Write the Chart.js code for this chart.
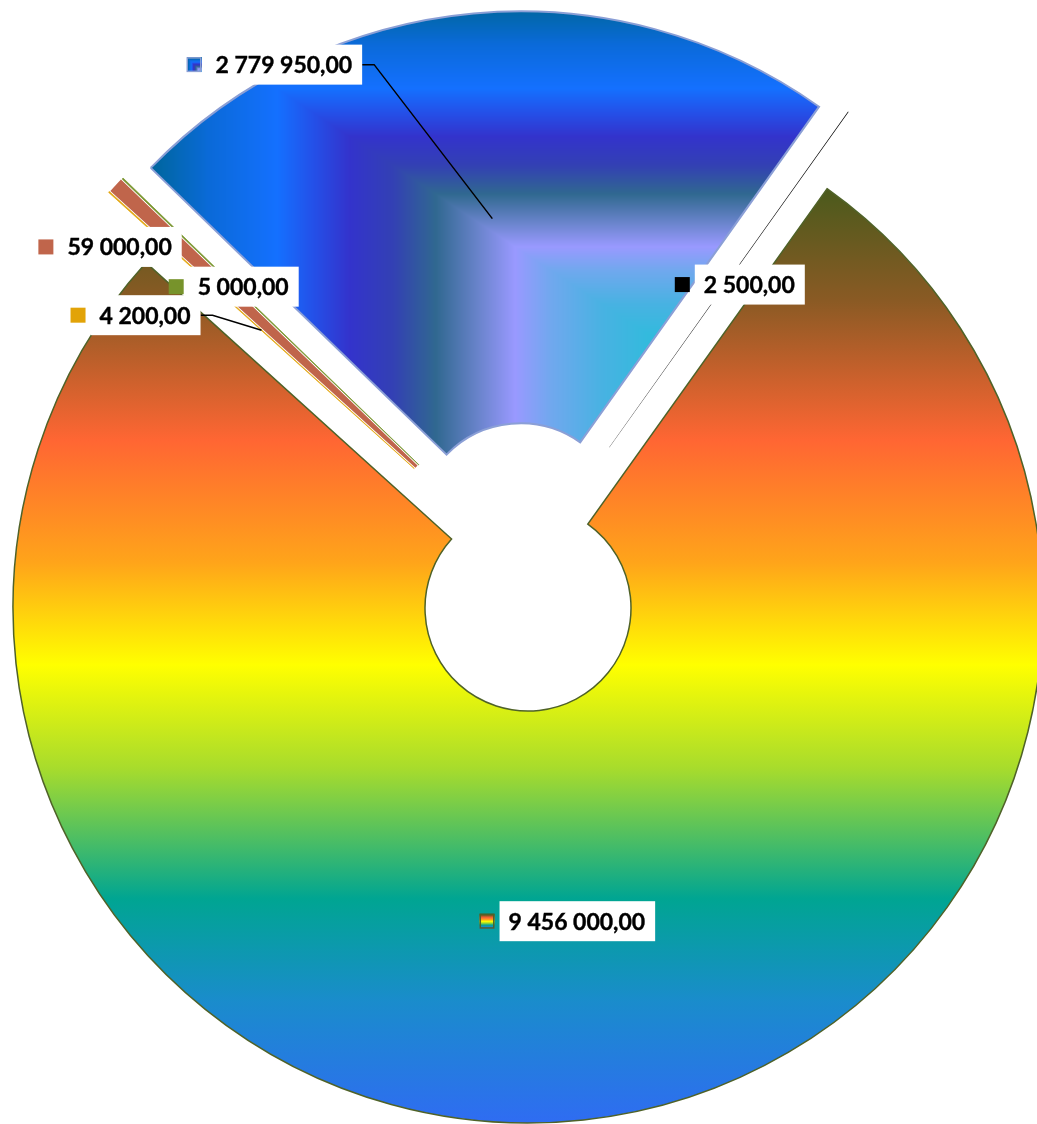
<!DOCTYPE html>
<html>
<head>
<meta charset="utf-8">
<script src="https://cdn.jsdelivr.net/npm/chart.js@4.4.1/dist/chart.umd.min.js"></script>
<style>
  html, body { margin: 0; padding: 0; background: #fff; }
  #wrap { width: 1037px; height: 1124px; }
</style>
</head>
<body>
<div id="wrap"><canvas id="chart" width="1037" height="1124"></canvas></div>
<script>
// slices in clockwise order, starting at the right edge of the big one
const sliceNames = ['Slice 1', 'Slice 2', 'Slice 3', 'Slice 4', 'Slice 5', 'Slice 6'];
const sliceValues = [9456000, 4200, 59000, 5000, 2779950, 2500];
const sliceColors = ['rainbow', '#e2a308', '#c0654b', '#77932b', 'blue', '#000000'];

// how far each slice is pulled out (radial, sideways clockwise), px
const explodeR = [0, 75, 75, 75, 82, 75];
const explodeT = [0, 27, 27, 27, 0, -27];

// label placement relative to each slice centroid (px) and leader flag
const labelShift = [[6, 6], [-126, -15], [-156, -79], [-37, -35], [-218, -154], [11, 5]];
const labelLeader = [false, true, false, false, true, false];

const outerR = 515;

function fmt(v) {
    const parts = v.toFixed(2).split('.');
    return parts[0].replace(/\B(?=(\d{3})+(?!\d))/g, ' ') + ',' + parts[1];
}

// stops of the excel style gradients
const rainbowStops = [
    [0.00, '#4a5a1c'], [0.12, '#8a5a24'], [0.27, '#ff6633'], [0.40, '#ffa41a'],
    [0.51, '#ffff00'], [0.62, '#a8dc2c'], [0.76, '#00a592'], [0.87, '#1a8ccc'], [1.00, '#2f6cf2']
];
const blueStops = [
    [-0.40, '#2ebcdc'], [-0.24, '#48b2e2'], [-0.10, '#70a8ee'], [0.00, '#9999ff'],
    [0.10, '#6a84cc'], [0.22, '#306890'], [0.34, '#3340b4'], [0.46, '#3333cc'],
    [0.56, '#2450e8'], [0.66, '#1470ff'], [0.85, '#0a6ad8'], [1.00, '#0066a0']
];

function hex(c) {
    return [parseInt(c.slice(1, 3), 16), parseInt(c.slice(3, 5), 16), parseInt(c.slice(5, 7), 16)];
}
const blueRgb = blueStops.map(s => [s[0], hex(s[1])]);
function blueAt(t) {
    if (t <= blueRgb[0][0]) return blueRgb[0][1];
    for (let i = 1; i < blueRgb.length; i++) {
        if (t <= blueRgb[i][0]) {
            const a = blueRgb[i - 1], b = blueRgb[i];
            const f = (t - a[0]) / (b[0] - a[0]);
            return [0, 1, 2].map(k => a[1][k] + (b[1][k] - a[1][k]) * f);
        }
    }
    return blueRgb[blueRgb.length - 1][1];
}

// rectangular "from corner" fill, drawn pixel by pixel
function blueCanvas(w, h, cx, cy, sx, sy, x0, y0, x1, y1) {
    const c = document.createElement('canvas');
    c.width = w; c.height = h;
    const g = c.getContext('2d');
    const img = g.createImageData(w, h);
    for (let y = Math.max(0, y0); y < Math.min(h, y1); y++) {
        for (let x = Math.max(0, x0); x < Math.min(w, x1); x++) {
            const t = Math.max((cx - x) / sx, (cy - y) / sy);
            const col = blueAt(t);
            const p = (y * w + x) * 4;
            img.data[p] = col[0]; img.data[p + 1] = col[1]; img.data[p + 2] = col[2]; img.data[p + 3] = 255;
        }
    }
    g.putImageData(img, 0, 0);
    return c;
}

let fills = null;
function makeFills(chart) {
    const area = chart.chartArea;
    const ctx = chart.ctx;
    const cx = (area.left + area.right) / 2;
    const cy = (area.top + area.bottom) / 2;
    const R = outerR;
    const rb = ctx.createLinearGradient(0, cy - 0.815 * R, 0, cy + R);
    rainbowStops.forEach(s => rb.addColorStop(s[0], s[1]));
    const bc = blueCanvas(chart.width, chart.height, cx - 0.012 * R, cy - 0.544 * R, 0.70 * R, 0.464 * R,
        Math.floor(cx - R - 4), Math.floor(cy - R - 4), Math.ceil(cx + R + 4), Math.ceil(cy + 10));
    const bp = ctx.createPattern(bc, 'no-repeat');
    const kb = blueCanvas(16, 16, 12, 12, 11, 11, 0, 0, 16, 16);
    fills = { rainbow: rb, blue: bp, blueKey: kb };
}

function sliceFill(context) {
    const chart = context.chart;
    const c = sliceColors[context.dataIndex];
    if (c !== 'rainbow' && c !== 'blue') return c;
    if (!chart.chartArea) return c === 'blue' ? '#1470ff' : '#ffa41a';
    if (!fills) makeFills(chart);
    return fills[c];
}

function explodeVec(arc, i) {
    const half = (arc.startAngle + arc.endAngle) / 2;
    const r = explodeR[i], t = explodeT[i];
    return {
        x: Math.cos(half) * r - Math.sin(half) * t,
        y: Math.sin(half) * r + Math.cos(half) * t
    };
}

// pulls the slices out without shrinking their angles
const explodePlugin = {
    id: 'explode',
    beforeDatasetDraw(chart, args) {
        const ctx = chart.ctx;
        args.meta.data.forEach((arc, i) => {
            const v = explodeVec(arc, i);
            ctx.save();
            ctx.translate(v.x, v.y);
            arc.draw(ctx, chart.chartArea);
            ctx.restore();
        });
        return false;
    }
};

const labelPlugin = {
    id: 'valueLabels',
    afterDatasetsDraw(chart) {
        const ctx = chart.ctx;
        const meta = chart.getDatasetMeta(0);
        ctx.save();
        ctx.font = 'bold 23px Lato';
        ctx.textBaseline = 'middle';
        meta.data.forEach((arc, i) => {
            const c0 = arc.tooltipPosition();
            const v = explodeVec(arc, i);
            const p = { x: c0.x + v.x, y: c0.y + v.y };
            const text = fmt(sliceValues[i]);
            const tw = ctx.measureText(text).width;
            const key = 15, gap = 5, boxW = tw + 19, boxH = 40;
            const groupW = key + gap + boxW;
            const mx = p.x + labelShift[i][0], my = p.y + labelShift[i][1];
            const left = mx - groupW / 2;
            if (labelLeader[i]) {
                ctx.strokeStyle = '#000';
                ctx.lineWidth = 1.5;
                ctx.beginPath();
                ctx.moveTo(left + groupW, my);
                ctx.lineTo(left + groupW + 12, my);
                ctx.lineTo(p.x, p.y);
                ctx.stroke();
            }
            ctx.fillStyle = '#fff';
            ctx.fillRect(left + key + gap, my - boxH / 2, boxW, boxH);
            const ky = my - key / 2;
            const c = sliceColors[i];
            if (c === 'rainbow') {
                const g = ctx.createLinearGradient(0, ky, 0, ky + key);
                rainbowStops.forEach(s => g.addColorStop(s[0], s[1]));
                ctx.fillStyle = g;
                ctx.fillRect(left, ky, key, key);
                ctx.strokeStyle = '#4f6228';
                ctx.lineWidth = 1.5;
                ctx.strokeRect(left + 0.75, ky + 0.75, key - 1.5, key - 1.5);
            } else if (c === 'blue') {
                ctx.drawImage(fills.blueKey, left, ky, key, key);
                ctx.strokeStyle = '#8b9fd6';
                ctx.lineWidth = 1.5;
                ctx.strokeRect(left + 0.75, ky + 0.75, key - 1.5, key - 1.5);
            } else {
                ctx.fillStyle = c;
                ctx.fillRect(left, ky, key, key);
            }
            ctx.fillStyle = '#000';
            ctx.strokeStyle = '#000';
            ctx.lineWidth = 0.4;
            ctx.fillText(text, left + key + gap + 9, my + 1);
            ctx.strokeText(text, left + key + gap + 9, my + 1);
        });
        ctx.restore();
    }
};

new Chart(document.getElementById('chart'), {
    type: 'doughnut',
    data: {
        labels: sliceNames,
        datasets: [{
            data: sliceValues,
            backgroundColor: sliceFill,
            borderColor: ['#4f6228', '#e2a308', '#c0654b', '#77932b', '#8b9fd6', '#000000'],
            borderWidth: [1.5, 0.7, 0, 0.7, 2, 0],
            borderJoinStyle: ['miter', 'bevel', 'bevel', 'bevel', 'miter', 'bevel'],
            offset: 0,
            clip: false
        }]
    },
    options: {
        responsive: false,
        animation: false,
        events: [],
        rotation: 35.5,
        radius: outerR,
        cutout: '20%',
        layout: { padding: { left: 19, right: 0, top: 92, bottom: 0 } },
        plugins: {
            legend: { display: false },
            tooltip: { enabled: false }
        }
    },
    plugins: [explodePlugin, labelPlugin]
});
</script>
</body>
</html>
